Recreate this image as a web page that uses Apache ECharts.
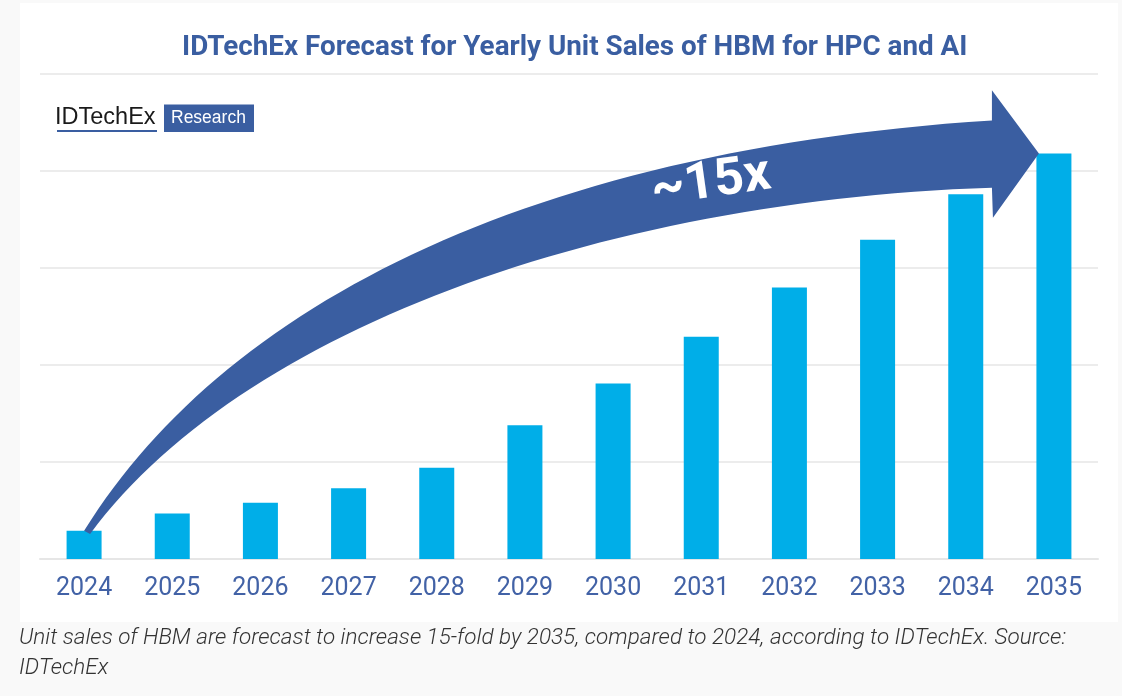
<!DOCTYPE html>
<html>
<head>
<meta charset="utf-8">
<script src="https://cdn.jsdelivr.net/npm/echarts@6/dist/echarts.min.js"></script>
<style>
  html, body { margin: 0; padding: 0; background: #f9f9f9; }
  #chart { width: 1122px; height: 696px; }
</style>
</head>
<body>
<div id="chart"></div>
<script>
// ---- data ----
const years = ['2024', '2025', '2026', '2027', '2028', '2029', '2030', '2031', '2032', '2033', '2034', '2035'];
const unitSales = [0.29, 0.47, 0.58, 0.73, 0.94, 1.38, 1.81, 2.29, 2.80, 3.29, 3.76, 4.18];
const chartTitle = 'IDTechEx Forecast for Yearly Unit Sales of HBM for HPC and AI';
const growthLabel = '~15x';
const logoName = 'IDTechEx';
const logoTag = 'Research';
const captionLines = [
  'Unit sales of HBM are forecast to increase 15-fold by 2035, compared to 2024, according to IDTechEx. Source:',
  'IDTechEx'
];

const BLUE_DARK = '#3A5EA1';
const BAR_BLUE = '#00AEE8';

const chart = echarts.init(document.getElementById('chart'), null, { renderer: 'canvas' });

const baseOption = {
  backgroundColor: '#f9f9f9',
  animation: false,
  title: {
    text: chartTitle,
    left: 177,
    top: 29,
    textStyle: { fontFamily: 'Roboto', fontWeight: 'bold', fontSize: 27.8, color: BLUE_DARK }
  },
  grid: { left: 40, right: 24, top: 74, bottom: 137, containLabel: false },
  xAxis: {
    type: 'category',
    data: years,
    axisLine: { show: true, lineStyle: { color: '#e6e6e6', width: 2 } },
    axisTick: { show: false },
    axisLabel: { color: '#4262A6', fontFamily: 'Roboto', fontSize: 25, margin: 17 }
  },
  yAxis: {
    type: 'value',
    min: 0, max: 5, interval: 1,
    axisLabel: { show: false },
    axisLine: { show: false },
    axisTick: { show: false },
    splitLine: { lineStyle: { color: '#ececec', width: 2 } }
  },
  series: [{
    type: 'bar',
    data: unitSales,
    barWidth: 35,
    itemStyle: { color: BAR_BLUE },
    z: 2
  }],
  graphic: []
};
chart.setOption(baseOption);

// ---- arrow anchored to the first and last bars ----
function cubic(p0, p1, p2, p3, n) {
  const pts = [];
  for (let i = 0; i <= n; i++) {
    const t = i / n, u = 1 - t;
    pts.push([
      u*u*u*p0[0] + 3*u*u*t*p1[0] + 3*u*t*t*p2[0] + t*t*t*p3[0],
      u*u*u*p0[1] + 3*u*u*t*p1[1] + 3*u*t*t*p2[1] + t*t*t*p3[1]
    ]);
  }
  return pts;
}
const first = chart.convertToPixel({ seriesIndex: 0 }, [0, unitSales[0]]);
const lastTop = chart.convertToPixel({ seriesIndex: 0 }, [years.length - 1, unitSales[unitSales.length - 1]]);
const tip = [lastTop[0] - 15, lastTop[1]];
// reference frame: tail (84,529) -> tip (1039,153)
const sx = (tip[0] - first[0]) / 955, sy = (tip[1] - first[1]) / -376;
const T = (x, y) => [first[0] + (x - 84) * sx, first[1] + (y - 529) * sy];
const upper = cubic(T(84, 529), T(220, 310), T(520, 150), T(992, 120), 60);
const lower = cubic(T(992, 187), T(600, 200), T(240, 330), T(90, 532), 60);
const arrowPts = upper.concat([T(992, 90), T(1039, 153), T(993, 217)]).concat(lower);
const lblPos = T(711, 183);

chart.setOption({
  graphic: [
    { type: 'rect', z: -100, silent: true,
      shape: { x: 20, y: 3, width: 1098, height: 619 },
      style: { fill: '#ffffff' } },
    { type: 'text', left: 55, top: 106, z: 10,
      style: { text: logoName, fontFamily: 'Liberation Sans, Arial', fontSize: 23.5, fill: '#1a1a1a' } },
    { type: 'rect', z: 10, shape: { x: 57, y: 130, width: 100, height: 2 }, style: { fill: BLUE_DARK } },
    { type: 'rect', z: 10, shape: { x: 164, y: 104.5, width: 90, height: 27.5 }, style: { fill: BLUE_DARK } },
    { type: 'text', z: 11, left: 171, top: 109,
      style: { text: logoTag, fontFamily: 'Liberation Sans, Arial', fontSize: 17.5, fill: '#ffffff' } },
    { type: 'polygon', z: 50, shape: { points: arrowPts }, style: { fill: BLUE_DARK } },
    { type: 'text', z: 51, x: lblPos[0], y: lblPos[1], rotation: 8 * Math.PI / 180,
      style: { text: growthLabel, fontFamily: 'Roboto', fontWeight: 'bold', fontSize: 52,
               fill: '#ffffff', align: 'center', verticalAlign: 'middle' } },
    { type: 'text', z: 10, left: 19, top: 627,
      style: { text: captionLines[0], fontFamily: 'Roboto', fontStyle: 'italic', fontWeight: 300,
               fontSize: 22.5, fill: '#333333' } },
    { type: 'text', z: 10, left: 19, top: 657,
      style: { text: captionLines[1], fontFamily: 'Roboto', fontStyle: 'italic', fontWeight: 300,
               fontSize: 22.5, fill: '#333333' } }
  ]
});
</script>
</body>
</html>
